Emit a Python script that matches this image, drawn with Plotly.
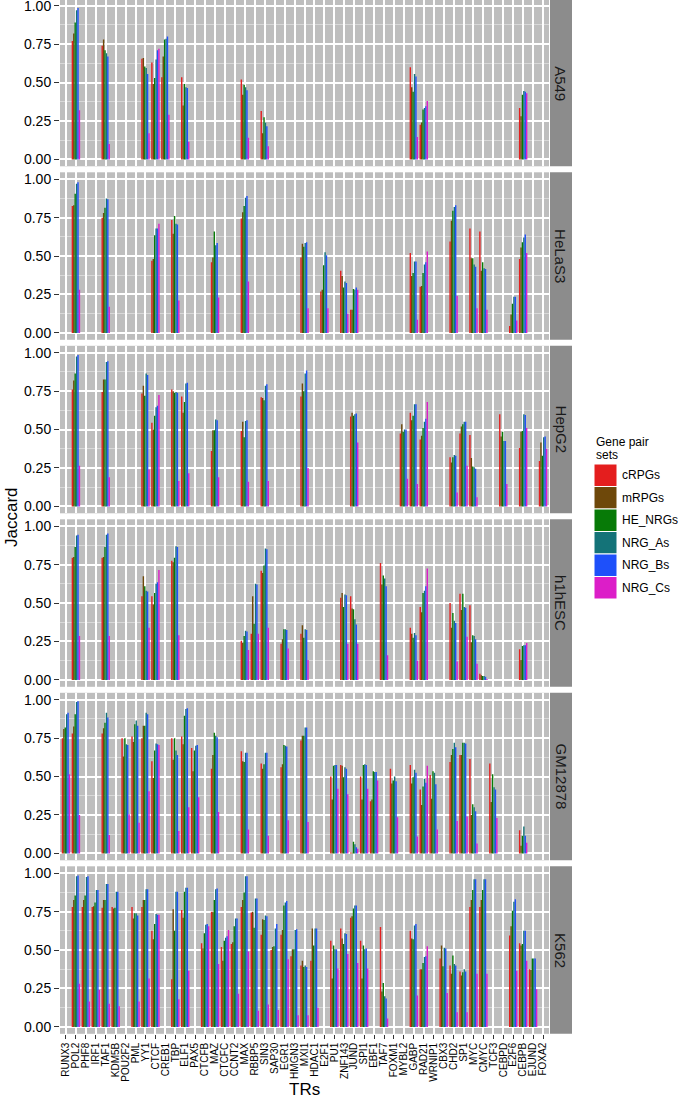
import plotly.graph_objects as go
from plotly.subplots import make_subplots

# ---------------- data ----------------
ALL_TRS = ["RUNX3", "POL2", "PHF8", "IRF1", "TAF1", "KDM5B", "POU2F2", "PML", "YY1", "CTCF",
           "CREB1", "TBP", "ELF1", "PAX5", "CTCFB", "MAZ", "CTCFC", "CCNT2", "MAX", "RBBP5",
           "SIN3", "SAP30", "EGR1", "HMGN3", "MXI1", "HDAC1", "E2F1", "PU1", "ZNF143", "JUND",
           "SPI1", "EBF1", "TAF7", "FOXM1", "MYBL2", "GABP", "RAD21", "WRNIP1", "CBX3", "CHD2",
           "SP1", "MYC", "CMYC", "TCF3", "CEBPD", "E2F6", "CEBPB", "EJUND", "FOXA2"]

SERIES = ["cRPGs", "mRPGs", "HE_NRGs", "NRG_As", "NRG_Bs", "NRG_Cs"]
COLORS = ["#E41E1E", "#6E480A", "#077A07", "#147378", "#1E50FA", "#DC1EC8"]

CELL_LINES = ["A549", "HeLaS3", "HepG2", "h1hESC", "GM12878", "K562"]

# each row: cRPGs, mRPGs, HE_NRGs, NRG_As, NRG_Bs, NRG_Cs
A549_TRS = ["POL2", "TAF1", "YY1", "CTCF", "CREB1", "ELF1", "MAX", "SIN3", "GABP", "RAD21", "CEBPB"]
A549_VALS = [
    [0.77, 0.82, 0.89, 0.97, 0.985, 0.32],
    [0.74, 0.78, 0.71, 0.69, 0.67, 0.10],
    [0.655, 0.66, 0.605, 0.595, 0.555, 0.17],
    [0.63, 0.49, 0.53, 0.65, 0.71, 0.72],
    [0.535, 0.67, 0.78, 0.785, 0.80, 0.29],
    [0.535, 0.35, 0.49, 0.47, 0.465, 0.115],
    [0.52, 0.42, 0.485, 0.47, 0.45, 0.14],
    [0.315, 0.17, 0.275, 0.24, 0.215, 0.085],
    [0.60, 0.47, 0.44, 0.555, 0.54, 0.145],
    [0.225, 0.24, 0.325, 0.335, 0.345, 0.38],
    [0.335, 0.28, 0.42, 0.445, 0.44, 0.43],
]

HELAS3_TRS = ["POL2", "TAF1", "CTCF", "TBP", "MAZ", "MAX", "MXI1", "E2F1", "ZNF143", "JUND",
              "GABP", "RAD21", "CHD2", "MYC", "CMYC", "E2F6", "CEBPB"]
HELAS3_VALS = [
    [0.825, 0.83, 0.905, 0.97, 0.98, 0.28],
    [0.75, 0.78, 0.815, 0.875, 0.87, 0.17],
    [0.47, 0.48, 0.635, 0.68, 0.68, 0.71],
    [0.735, 0.645, 0.76, 0.71, 0.705, 0.21],
    [0.46, 0.49, 0.66, 0.57, 0.585, 0.23],
    [0.745, 0.785, 0.825, 0.88, 0.89, 0.335],
    [0.49, 0.58, 0.56, 0.585, 0.59, 0.16],
    [0.27, 0.28, 0.44, 0.525, 0.505, 0.16],
    [0.405, 0.37, 0.295, 0.335, 0.325, 0.125],
    [0.15, 0.15, 0.285, 0.28, 0.295, 0.28],
    [0.52, 0.37, 0.39, 0.465, 0.465, 0.085],
    [0.30, 0.305, 0.39, 0.445, 0.46, 0.53],
    [0.595, 0.73, 0.795, 0.82, 0.83, 0.24],
    [0.68, 0.485, 0.485, 0.445, 0.43, 0.16],
    [0.66, 0.405, 0.46, 0.42, 0.415, 0.15],
    [0.045, 0.12, 0.19, 0.235, 0.235, 0.08],
    [0.48, 0.555, 0.59, 0.62, 0.64, 0.52],
]

HEPG2_TRS = ["POL2", "TAF1", "YY1", "CTCF", "TBP", "ELF1", "MAZ", "MAX", "SIN3", "MXI1", "JUND",
             "MYBL2", "GABP", "RAD21", "CHD2", "SP1", "MYC", "CEBPD", "CEBPB", "FOXA2"]
HEPG2_VALS = [
    [0.76, 0.82, 0.865, 0.975, 0.985, 0.265],
    [0.745, 0.825, 0.825, 0.94, 0.945, 0.19],
    [0.735, 0.785, 0.72, 0.865, 0.855, 0.24],
    [0.545, 0.50, 0.59, 0.645, 0.655, 0.725],
    [0.76, 0.75, 0.74, 0.745, 0.74, 0.165],
    [0.715, 0.61, 0.68, 0.80, 0.805, 0.215],
    [0.36, 0.495, 0.495, 0.565, 0.56, 0.19],
    [0.49, 0.55, 0.45, 0.555, 0.56, 0.16],
    [0.71, 0.705, 0.69, 0.785, 0.795, 0.165],
    [0.715, 0.80, 0.75, 0.865, 0.885, 0.25],
    [0.585, 0.61, 0.59, 0.60, 0.605, 0.415],
    [0.475, 0.535, 0.485, 0.50, 0.50, 0.18],
    [0.61, 0.56, 0.59, 0.665, 0.665, 0.145],
    [0.435, 0.46, 0.51, 0.55, 0.57, 0.68],
    [0.32, 0.285, 0.32, 0.335, 0.33, 0.09],
    [0.475, 0.52, 0.535, 0.55, 0.55, 0.265],
    [0.465, 0.315, 0.26, 0.255, 0.245, 0.06],
    [0.60, 0.455, 0.485, 0.425, 0.425, 0.145],
    [0.38, 0.485, 0.49, 0.60, 0.595, 0.51],
    [0.295, 0.415, 0.33, 0.45, 0.455, 0.375],
]

H1HESC_TRS = ["POL2", "TAF1", "YY1", "CTCF", "TBP", "MAX", "RBBP5", "SIN3", "EGR1", "MXI1",
              "ZNF143", "JUND", "TAF7", "GABP", "RAD21", "CHD2", "SP1", "MYC", "CMYC", "CEBPB"]
H1HESC_VALS = [
    [0.795, 0.80, 0.865, 0.94, 0.945, 0.285],
    [0.795, 0.80, 0.865, 0.945, 0.952, 0.285],
    [0.545, 0.675, 0.61, 0.58, 0.575, 0.34],
    [0.545, 0.49, 0.565, 0.625, 0.635, 0.715],
    [0.775, 0.765, 0.795, 0.87, 0.865, 0.29],
    [0.255, 0.24, 0.285, 0.32, 0.315, 0.195],
    [0.30, 0.545, 0.365, 0.625, 0.62, 0.30],
    [0.71, 0.695, 0.745, 0.855, 0.85, 0.34],
    [0.235, 0.265, 0.33, 0.33, 0.325, 0.205],
    [0.30, 0.355, 0.275, 0.33, 0.325, 0.13],
    [0.535, 0.565, 0.475, 0.555, 0.55, 0.235],
    [0.545, 0.465, 0.46, 0.395, 0.36, 0.235],
    [0.76, 0.62, 0.68, 0.66, 0.61, 0.16],
    [0.34, 0.30, 0.275, 0.305, 0.29, 0.125],
    [0.475, 0.44, 0.565, 0.58, 0.61, 0.725],
    [0.50, 0.34, 0.435, 0.385, 0.37, 0.12],
    [0.56, 0.455, 0.56, 0.475, 0.47, 0.28],
    [0.485, 0.245, 0.29, 0.285, 0.265, 0.105],
    [0.04, 0.03, 0.025, 0.025, 0.02, 0.005],
    [0.20, 0.13, 0.22, 0.225, 0.225, 0.24],
]

GM12878_TRS = ["RUNX3", "POL2", "TAF1", "POU2F2", "PML", "YY1", "CTCF", "TBP", "ELF1", "PAX5",
               "MAZ", "MAX", "SIN3", "EGR1", "MXI1", "PU1", "ZNF143", "JUND", "SPI1", "EBF1",
               "FOXM1", "GABP", "RAD21", "WRNIP1", "CHD2", "SP1", "MYC", "TCF3", "CEBPB"]
GM12878_VALS = [
    [0.75, 0.81, 0.82, 0.905, 0.915, 0.515],
    [0.78, 0.825, 0.905, 0.985, 0.99, 0.25],
    [0.78, 0.815, 0.85, 0.915, 0.885, 0.12],
    [0.75, 0.63, 0.75, 0.71, 0.705, 0.255],
    [0.76, 0.725, 0.84, 0.865, 0.83, 0.20],
    [0.75, 0.83, 0.83, 0.915, 0.905, 0.405],
    [0.60, 0.49, 0.67, 0.715, 0.71, 0.705],
    [0.75, 0.61, 0.75, 0.67, 0.64, 0.145],
    [0.76, 0.71, 0.895, 0.94, 0.945, 0.30],
    [0.685, 0.535, 0.67, 0.70, 0.705, 0.365],
    [0.55, 0.64, 0.785, 0.765, 0.755, 0.27],
    [0.665, 0.60, 0.595, 0.655, 0.655, 0.155],
    [0.585, 0.55, 0.58, 0.655, 0.655, 0.115],
    [0.56, 0.58, 0.705, 0.70, 0.695, 0.215],
    [0.735, 0.765, 0.765, 0.82, 0.82, 0.205],
    [0.50, 0.35, 0.57, 0.575, 0.575, 0.42],
    [0.575, 0.57, 0.495, 0.56, 0.55, 0.385],
    [0.005, 0.005, 0.075, 0.06, 0.04, 0.03],
    [0.50, 0.35, 0.575, 0.58, 0.575, 0.42],
    [0.34, 0.35, 0.535, 0.53, 0.53, 0.475],
    [0.55, 0.455, 0.475, 0.50, 0.47, 0.235],
    [0.575, 0.455, 0.495, 0.545, 0.525, 0.11],
    [0.415, 0.315, 0.435, 0.485, 0.46, 0.57],
    [0.51, 0.355, 0.535, 0.525, 0.45, 0.155],
    [0.595, 0.64, 0.68, 0.72, 0.69, 0.21],
    [0.64, 0.64, 0.72, 0.72, 0.715, 0.24],
    [0.615, 0.25, 0.32, 0.30, 0.275, 0.065],
    [0.585, 0.335, 0.515, 0.43, 0.415, 0.23],
    [0.15, 0.05, 0.115, 0.175, 0.115, 0.07],
]

K562_TRS = ["POL2", "PHF8", "IRF1", "TAF1", "KDM5B", "PML", "YY1", "CTCF", "TBP", "ELF1", "CTCFB",
            "MAZ", "CTCFC", "CCNT2", "MAX", "RBBP5", "SIN3", "SAP30", "EGR1", "HMGN3", "MXI1",
            "HDAC1", "PU1", "ZNF143", "JUND", "SPI1", "TAF7", "GABP", "RAD21", "CBX3", "CHD2",
            "SP1", "MYC", "CMYC", "E2F6", "CEBPB", "EJUND"]
K562_VALS = [
    [0.78, 0.825, 0.855, 0.98, 0.985, 0.28],
    [0.78, 0.825, 0.855, 0.975, 0.98, 0.165],
    [0.78, 0.785, 0.81, 0.89, 0.89, 0.24],
    [0.775, 0.825, 0.825, 0.93, 0.93, 0.15],
    [0.78, 0.77, 0.775, 0.88, 0.88, 0.135],
    [0.78, 0.705, 0.74, 0.74, 0.725, 0.165],
    [0.78, 0.825, 0.825, 0.895, 0.895, 0.315],
    [0.625, 0.57, 0.67, 0.735, 0.73, 0.73],
    [0.31, 0.765, 0.625, 0.88, 0.88, 0.18],
    [0.76, 0.71, 0.88, 0.905, 0.905, 0.365],
    [0.545, 0.51, 0.61, 0.665, 0.67, 0.655],
    [0.75, 0.75, 0.825, 0.895, 0.90, 0.41],
    [0.52, 0.43, 0.56, 0.58, 0.59, 0.63],
    [0.54, 0.55, 0.655, 0.705, 0.705, 0.215],
    [0.78, 0.825, 0.875, 0.98, 0.98, 0.49],
    [0.745, 0.75, 0.645, 0.835, 0.835, 0.105],
    [0.60, 0.70, 0.695, 0.725, 0.72, 0.145],
    [0.50, 0.52, 0.525, 0.64, 0.67, 0.11],
    [0.60, 0.63, 0.79, 0.81, 0.82, 0.44],
    [0.46, 0.505, 0.505, 0.63, 0.635, 0.075],
    [0.40, 0.43, 0.39, 0.40, 0.39, 0.075],
    [0.43, 0.64, 0.53, 0.64, 0.64, 0.125],
    [0.56, 0.315, 0.53, 0.505, 0.505, 0.38],
    [0.64, 0.575, 0.54, 0.61, 0.605, 0.475],
    [0.71, 0.72, 0.77, 0.79, 0.79, 0.415],
    [0.56, 0.315, 0.53, 0.505, 0.51, 0.38],
    [0.65, 0.23, 0.285, 0.20, 0.185, 0.055],
    [0.625, 0.575, 0.57, 0.66, 0.67, 0.205],
    [0.375, 0.375, 0.415, 0.455, 0.46, 0.525],
    [0.445, 0.53, 0.395, 0.515, 0.51, 0.22],
    [0.40, 0.345, 0.465, 0.41, 0.40, 0.095],
    [0.36, 0.335, 0.355, 0.375, 0.36, 0.095],
    [0.78, 0.825, 0.89, 0.96, 0.96, 0.345],
    [0.78, 0.825, 0.89, 0.96, 0.96, 0.345],
    [0.595, 0.655, 0.755, 0.815, 0.83, 0.365],
    [0.545, 0.53, 0.54, 0.625, 0.625, 0.43],
    [0.375, 0.37, 0.445, 0.445, 0.445, 0.245],
]

PANELS = [
    (A549_TRS, A549_VALS),
    (HELAS3_TRS, HELAS3_VALS),
    (HEPG2_TRS, HEPG2_VALS),
    (H1HESC_TRS, H1HESC_VALS),
    (GM12878_TRS, GM12878_VALS),
    (K562_TRS, K562_VALS),
]

Y_TICKS = [0, 0.25, 0.5, 0.75, 1.0]
Y_TICK_TEXT = ["0.00", "0.25", "0.50", "0.75", "1.00"]

# ---------------- layout geometry ----------------
W, H = 679, 1102
ML, MR, MT, MB = 60, 130, 0, 68
PW = W - ML - MR
PH = H - MT - MB
PANEL_H = 167.5
PITCH = 173.5
TOP0 = -1.2
FONT = "Liberation Sans, Arial, Helvetica, sans-serif"
PANEL_BG = "#BEBEBE"
STRIP_BG = "#8C8C8C"

fig = make_subplots(rows=6, cols=1, shared_xaxes=True, vertical_spacing=0.005)

for p, (trs, vals) in enumerate(PANELS):
    for s, name in enumerate(SERIES):
        fig.add_trace(
            go.Bar(
                x=trs,
                y=[row[s] for row in vals],
                name=name,
                marker=dict(color=COLORS[s], line=dict(width=0)),
                showlegend=False,
            ),
            row=p + 1, col=1,
        )

shapes = []
annotations = []
units_per_px = 1.09 / PANEL_H
for p in range(6):
    top_px = TOP0 + PITCH * p
    bot_px = top_px + PANEL_H
    y_lo, y_hi = -0.045, 1.045
    if top_px < 0:
        y_hi = 1.045 + top_px * units_per_px
        top_px = 0
    d0 = max(0.0, 1 - bot_px / PH)
    d1 = 1 - top_px / PH
    yname = "yaxis" if p == 0 else f"yaxis{p + 1}"
    xname = "xaxis" if p == 0 else f"xaxis{p + 1}"
    fig.layout[yname].update(
        domain=[d0, d1], range=[y_lo, y_hi], automargin=False,
        tickmode="array", tickvals=Y_TICKS, ticktext=Y_TICK_TEXT,
        ticklabeloverflow="allow",
        showgrid=True, gridcolor="white", gridwidth=2,
        minor=dict(tickvals=[0.125, 0.375, 0.625, 0.875], showgrid=True,
                   gridcolor="#D8D8D8", gridwidth=1, ticks=""),
        zeroline=False, showline=False,
        ticks="outside", ticklen=5, tickwidth=1, tickcolor="#333333",
        tickfont=dict(family=FONT, size=14, color="black"),
    )
    fig.layout[xname].update(
        type="category", categoryorder="array", categoryarray=ALL_TRS,
        range=[-0.6, len(ALL_TRS) - 0.4], automargin=False,
        tickmode="array", tickvals=ALL_TRS, ticktext=ALL_TRS,
        showgrid=True, gridcolor="white", gridwidth=2,
        zeroline=False, showline=False,
        showticklabels=(p == 5),
        ticks="outside" if p == 5 else "", ticklen=4, tickwidth=1, tickcolor="#333333",
        tickangle=-90,
        tickfont=dict(family=FONT, size=10, color="black"),
    )
    yref = "y domain" if p == 0 else f"y{p + 1} domain"
    shapes.append(dict(type="rect", xref="paper", yref=yref,
                       x0=(550 - ML) / PW, x1=(572 - ML) / PW, y0=0, y1=1,
                       fillcolor=STRIP_BG, line=dict(width=0), layer="below"))
    annotations.append(dict(text=CELL_LINES[p], xref="paper", yref=yref,
                            x=(561 - ML) / PW, y=0.5, showarrow=False, textangle=90,
                            font=dict(family=FONT, size=15, color="#1a1a1a"),
                            xanchor="center", yanchor="middle"))

# legend (drawn manually to mimic ggplot keys)
key_x0, key_x1 = (594 - ML) / PW, (617 - ML) / PW
for i, name in enumerate(SERIES):
    ky0 = 464 + 22.5 * i
    ky1 = ky0 + 22.5
    shapes.append(dict(type="rect", xref="paper", yref="paper",
                       x0=key_x0, x1=key_x1, y0=1 - ky1 / PH, y1=1 - ky0 / PH,
                       fillcolor=COLORS[i], line=dict(color="white", width=1)))
    annotations.append(dict(text=name, xref="paper", yref="paper",
                            x=(620 - ML) / PW, y=1 - (ky0 + 11.25) / PH,
                            xanchor="left", yanchor="middle", showarrow=False,
                            font=dict(family=FONT, size=12, color="black")))
annotations.append(dict(text="Gene pair", xref="paper", yref="paper",
                        x=(594 - ML) / PW, y=1 - 442 / PH, xanchor="left", yanchor="middle",
                        showarrow=False, font=dict(family=FONT, size=12, color="black")))
annotations.append(dict(text="sets", xref="paper", yref="paper",
                        x=(594 - ML) / PW, y=1 - 455 / PH, xanchor="left", yanchor="middle",
                        showarrow=False, font=dict(family=FONT, size=12, color="black")))

# axis titles
annotations.append(dict(text="Jaccard", xref="paper", yref="paper",
                        x=(11 - ML) / PW, y=0.5, textangle=-90, showarrow=False,
                        xanchor="center", yanchor="middle",
                        font=dict(family=FONT, size=17, color="black")))
annotations.append(dict(text="TRs", xref="paper", yref="paper",
                        x=0.5, y=1 - 1089 / PH, showarrow=False,
                        xanchor="center", yanchor="middle",
                        font=dict(family=FONT, size=17, color="black")))

fig.update_layout(
    width=W, height=H,
    margin=dict(l=ML, r=MR, t=MT, b=MB, autoexpand=False),
    paper_bgcolor="white", plot_bgcolor=PANEL_BG,
    barmode="group", bargap=0.15, bargroupgap=0,
    showlegend=False, hovermode=False,
    shapes=shapes, annotations=annotations,
    font=dict(family=FONT),
)

fig.write_html(
    "out.html",
    config={"displayModeBar": False, "staticPlot": True},
    post_script="document.body.style.margin='0';document.body.style.padding='0';",
)
